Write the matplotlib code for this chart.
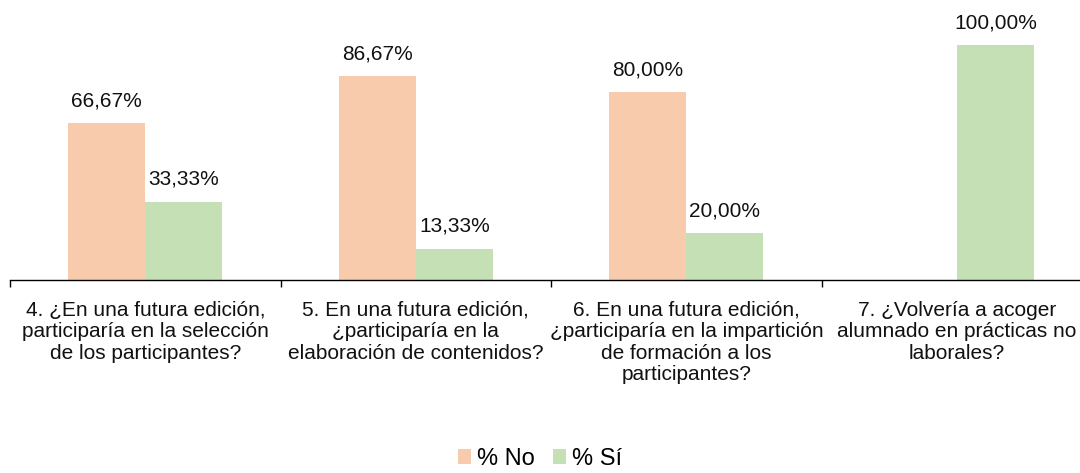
import matplotlib
matplotlib.use("Agg")
import matplotlib.pyplot as plt
import numpy as np

plt.rcParams["font.family"] = ["Liberation Sans", "DejaVu Sans"]

categories = [
    "4. ¿En una futura edición,\nparticiparía en la selección\nde los participantes?",
    "5. En una futura edición,\n¿participaría en la\nelaboración de contenidos?",
    "6. En una futura edición,\n¿participaría en la impartición\nde formación a los\nparticipantes?",
    "7. ¿Volvería a acoger\nalumnado en prácticas no\nlaborales?",
]
pct_no = [66.67, 86.67, 80.00, 0.0]
pct_si = [33.33, 13.33, 20.00, 100.00]
series_names = ["% No", "% Sí"]
colors = ["#F8CBAD", "#C5E0B4"]


def fmt(v):
    return f"{v:.2f}".replace(".", ",") + "%"


fig = plt.figure(figsize=(10.8, 4.73), dpi=100)
# plot area runs slightly past the right edge of the figure, as in the source
ax = fig.add_axes([0.0093, 0.408, 1.0019, 0.497])

x = np.arange(len(categories))
w = 0.285
bars_no = ax.bar(x - w / 2, pct_no, w, color=colors[0], label=series_names[0])
bars_si = ax.bar(x + w / 2, pct_si, w, color=colors[1], label=series_names[1])

for bars, vals in [(bars_no, pct_no), (bars_si, pct_si)]:
    for b, v in zip(bars, vals):
        if v <= 0:
            continue
        ax.text(b.get_x() + b.get_width() / 2, v + 5.5, fmt(v),
                ha="center", va="bottom", fontsize=15, color="#111111",
                clip_on=False)

ax.set_xlim(-0.5, len(categories) - 0.5)
ax.set_ylim(0, 100)
ax.set_yticks([])
for s in ["top", "right", "left"]:
    ax.spines[s].set_visible(False)
ax.spines["bottom"].set_color("#000000")
ax.spines["bottom"].set_linewidth(1.0)

ax.set_xticks(np.arange(-0.5, len(categories), 1))
ax.set_xticklabels([])
ax.tick_params(axis="x", length=5, width=1, color="#000000")
ax.set_xticks(x, minor=True)
ax.set_xticklabels(categories, minor=True, fontsize=15, color="#111111",
                   linespacing=1.17)
ax.tick_params(axis="x", which="minor", length=0, pad=15)

fig.legend(handles=[bars_no, bars_si], labels=series_names, loc="center",
           bbox_to_anchor=(0.5, 0.03), ncol=2, frameon=False, fontsize=17,
           handlelength=0.55, handleheight=0.55, handletextpad=0.25,
           columnspacing=0.8, borderpad=0.1)

fig.savefig("out.png", dpi=100, facecolor="white")
